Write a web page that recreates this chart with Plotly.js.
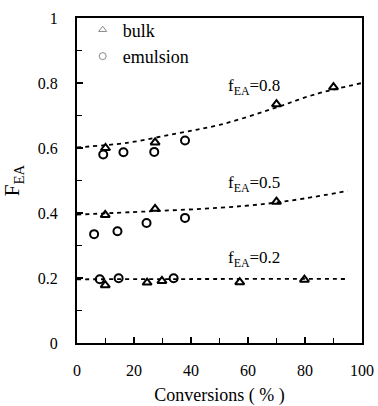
<!DOCTYPE html>
<html>
<head>
<meta charset="utf-8">
<script src="https://cdn.plot.ly/plotly-3.0.1.min.js"></script>
<style>html,body{margin:0;padding:0;background:#fff;}#chart{width:378px;height:406px;}</style>
</head>
<body>
<div id="chart"></div>
<script>
// Bulk (triangles)
const bulkX08 = [10, 27.4, 70, 90];
const bulkY08 = [0.60, 0.617, 0.735, 0.787];
const bulkX05 = [9.9, 27.4, 70];
const bulkY05 = [0.394, 0.413, 0.435];
const bulkX02 = [9.9, 24.6, 29.8, 57.1, 79.8];
const bulkY02 = [0.178, 0.186, 0.191, 0.187, 0.195];
// Emulsion (circles)
const emulX08 = [9.2, 16.3, 27.1, 37.9];
const emulY08 = [0.580, 0.587, 0.588, 0.623];
const emulX05 = [6, 14.2, 24.4, 37.9];
const emulY05 = [0.335, 0.344, 0.369, 0.385];
const emulX02 = [8, 14.6, 33.9];
const emulY02 = [0.196, 0.199, 0.199];
// Model curves
const curveX08 = [0, 17.5, 35, 50, 68, 83.5, 100];
const curveY08 = [0.602, 0.616, 0.645, 0.671, 0.719, 0.765, 0.80];
const curveX05 = [0, 25, 50, 67, 80, 95];
const curveY05 = [0.395, 0.405, 0.416, 0.429, 0.445, 0.468];
const curveX02 = [0, 50, 95];
const curveY02 = [0.196, 0.197, 0.197];
// Labels
const curveLabels = ['f<sub>EA</sub>=0.8', 'f<sub>EA</sub>=0.5', 'f<sub>EA</sub>=0.2'];
const labelX = [52.4, 52.4, 52.4];
const labelY = [0.787, 0.488, 0.258];
const seriesNames = ['bulk', 'emulsion'];

const FONT = '"Liberation Serif", "Times New Roman", Times, serif';
const dashLine = {color: '#000', width: 1.8, dash: '4px,4px', shape: 'spline'};
const triMarker = {symbol: 'triangle-up-open', size: 8, color: '#000', line: {width: 2, color: '#000'}};
const cirMarker = {symbol: 'circle-open', size: 8, color: '#000', line: {width: 2, color: '#000'}};

const traces = [];
[[curveX08, curveY08], [curveX05, curveY05], [curveX02, curveY02]].forEach(([x, y]) => {
  traces.push({x, y, mode: 'lines', line: dashLine, showlegend: false, hoverinfo: 'skip'});
});
[[bulkX08, bulkY08], [bulkX05, bulkY05], [bulkX02, bulkY02]].forEach(([x, y]) => {
  traces.push({x, y, mode: 'markers', marker: triMarker, showlegend: false});
});
[[emulX08, emulY08], [emulX05, emulY05], [emulX02, emulY02]].forEach(([x, y]) => {
  traces.push({x, y, mode: 'markers', marker: cirMarker, showlegend: false});
});
// legend entries
traces.push({x: [null], y: [null], mode: 'markers', name: seriesNames[0],
  marker: {symbol: 'triangle-up-open', size: 7, color: '#888', line: {width: 1, color: '#888'}}});
traces.push({x: [null], y: [null], mode: 'markers', name: seriesNames[1],
  marker: {symbol: 'circle-open', size: 7, color: '#888', line: {width: 1, color: '#888'}}});

const annotations = curveLabels.map((t, i) => ({
  x: labelX[i], y: labelY[i], xref: 'x', yref: 'y', text: t, showarrow: false,
  xanchor: 'left', yanchor: 'middle', font: {family: FONT, size: 17, color: '#000'}
}));

const axisCommon = {
  showgrid: false, zeroline: false, showline: true, linecolor: '#000', linewidth: 2,
  mirror: true, ticks: 'inside', ticklen: 6, tickwidth: 1.5, tickcolor: '#000',
  tickfont: {family: FONT, size: 16, color: '#000'}
};

const layout = {
  width: 378, height: 406,
  margin: {l: 77, r: 16, t: 18, b: 63},
  paper_bgcolor: '#fff', plot_bgcolor: '#fff',
  font: {family: FONT, color: '#000'},
  showlegend: true,
  legend: {x: 0.02, y: 1.02, xanchor: 'left', yanchor: 'top', bgcolor: 'rgba(0,0,0,0)',
    font: {family: FONT, size: 18, color: '#000'}, tracegroupgap: 0},
  xaxis: Object.assign({}, axisCommon, {
    range: [0, 100], dtick: 20, tick0: 0, ticklabelstandoff: 12,
    minor: {dtick: 10, ticks: 'inside', ticklen: 5, tickwidth: 1.5, tickcolor: '#000'},
    title: {text: 'Conversions ( % )', font: {family: FONT, size: 18, color: '#000'}, standoff: 14}
  }),
  yaxis: Object.assign({}, axisCommon, {
    range: [0, 1], dtick: 0.2, tick0: 0, ticklabelstandoff: 14,
    minor: {dtick: 0.1, ticks: 'inside', ticklen: 5, tickwidth: 1.5, tickcolor: '#000'},
    title: {text: 'F<sub>EA</sub>', font: {family: FONT, size: 21, color: '#000'}, standoff: 12}
  }),
  annotations: annotations
};

Plotly.newPlot('chart', traces, layout, {displayModeBar: false, staticPlot: true});
</script>
</body>
</html>
